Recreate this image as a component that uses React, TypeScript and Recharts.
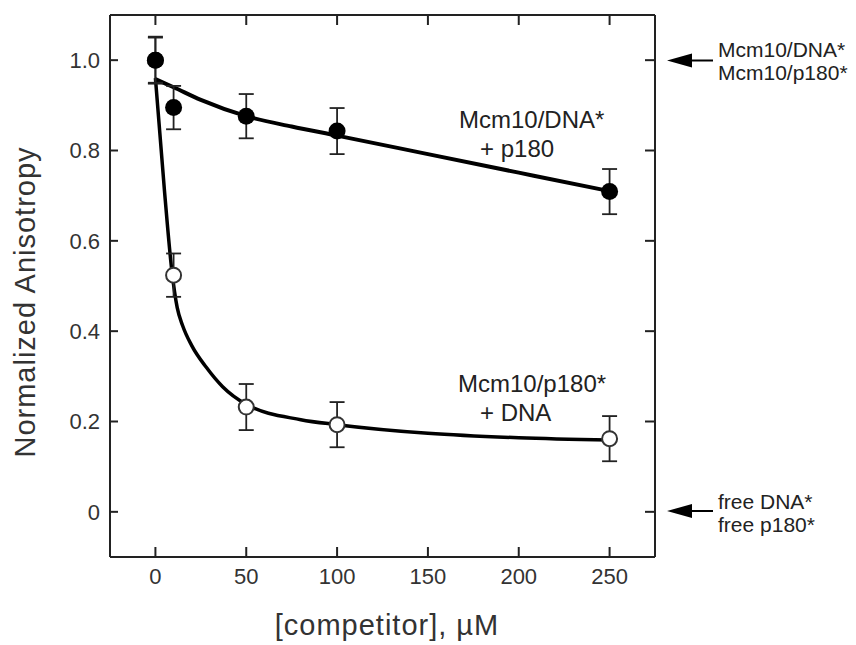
import { ComposedChart, Line, Scatter, ErrorBar, XAxis, YAxis } from 'recharts';

// competitor concentration (uM) where measurements were taken
const concentrations = [0, 10, 50, 100, 250];

// Mcm10/DNA* + p180 (filled circles)
const dnaComplexValues = [1.0, 0.895, 0.876, 0.843, 0.709];
const dnaComplexErrors = [0.052, 0.048, 0.049, 0.051, 0.05];

// Mcm10/p180* + DNA (open circles)
const p180ComplexValues = [1.0, 0.524, 0.232, 0.193, 0.162];
const p180ComplexErrors = [0.05, 0.048, 0.051, 0.05, 0.05];

// fitted curves
const dnaFitX = [0, 10, 25, 50, 75, 100, 150, 200, 250];
const dnaFitY = [0.958, 0.94, 0.912, 0.876, 0.853, 0.833, 0.792, 0.751, 0.71];
const p180FitX = [0, 5, 9, 12, 15, 20, 28, 37, 50, 80, 100, 150, 200, 250];
const p180FitY = [0.96, 0.71, 0.535, 0.452, 0.412, 0.368, 0.32, 0.277, 0.238, 0.204, 0.193, 0.174, 0.164, 0.159];

const xTicks = [0, 50, 100, 150, 200, 250];
const yTicks = [0, 0.2, 0.4, 0.6, 0.8, 1.0];

const dnaPoints = concentrations.map((x, i) => ({ x, y: dnaComplexValues[i], err: dnaComplexErrors[i] }));
const p180Points = concentrations.map((x, i) => ({ x, y: p180ComplexValues[i], err: p180ComplexErrors[i] }));
const dnaFit = dnaFitX.map((x, i) => ({ x, y: dnaFitY[i] }));
const p180Fit = p180FitX.map((x, i) => ({ x, y: p180FitY[i] }));

const font = "'Liberation Sans', Arial, sans-serif";
const tickStyle = { fill: '#333', fontSize: 22, fontFamily: font };
const axisStroke = { stroke: '#222', strokeWidth: 2 };

const NoLabel = () => <g />;

const FilledDot = (props: any) => <circle cx={props.cx} cy={props.cy} r={8.5} fill="#000" />;
const OpenDot = (props: any) => (
  <circle cx={props.cx} cy={props.cy} r={7.5} fill="#fff" stroke="#333" strokeWidth={2} />
);

export default function App() {
  return (
    <div style={{ position: 'absolute', left: 0, top: 0, width: 856, height: 645, fontFamily: font }}>
      <ComposedChart width={856} height={645} margin={{ top: 14, right: 200, bottom: 48, left: 50 }}>
        <XAxis
          xAxisId={0}
          dataKey="x"
          type="number"
          domain={[-25, 275]}
          ticks={xTicks}
          allowDataOverflow
          height={40}
          tickSize={-10}
          tickMargin={21}
          tick={tickStyle}
          axisLine={axisStroke}
          tickLine={axisStroke}
        />
        <XAxis
          xAxisId="top"
          orientation="top"
          dataKey="x"
          type="number"
          domain={[-25, 275]}
          ticks={xTicks}
          allowDataOverflow
          height={1}
          tickSize={-10}
          tick={NoLabel}
          axisLine={axisStroke}
          tickLine={axisStroke}
        />
        <YAxis
          yAxisId={0}
          type="number"
          domain={[-0.1, 1.1]}
          ticks={yTicks}
          allowDataOverflow
          width={60}
          tickSize={-8}
          tickMargin={18}
          tick={tickStyle}
          tickFormatter={(v: number) => (v === 0 ? '0' : v.toFixed(1))}
          axisLine={axisStroke}
          tickLine={axisStroke}
        />
        <YAxis
          yAxisId="right"
          orientation="right"
          type="number"
          domain={[-0.1, 1.1]}
          ticks={yTicks}
          allowDataOverflow
          width={1}
          tickSize={-10}
          tick={NoLabel}
          axisLine={axisStroke}
          tickLine={axisStroke}
        />
        <Line
          data={p180Fit}
          dataKey="y"
          type="monotone"
          stroke="#000"
          strokeWidth={3.5}
          dot={false}
          activeDot={false}
          isAnimationActive={false}
        />
        <Line
          data={dnaFit}
          dataKey="y"
          type="monotone"
          stroke="#000"
          strokeWidth={4}
          dot={false}
          activeDot={false}
          isAnimationActive={false}
        />
        <Scatter data={p180Points} dataKey="y" shape={OpenDot} isAnimationActive={false}>
          <ErrorBar dataKey="err" direction="y" width={7.5} stroke="#222" strokeWidth={1.8} />
        </Scatter>
        <Scatter data={dnaPoints} dataKey="y" shape={FilledDot} isAnimationActive={false}>
          <ErrorBar dataKey="err" direction="y" width={7.5} stroke="#222" strokeWidth={1.8} />
        </Scatter>
      </ComposedChart>
      <svg
        width={856}
        height={645}
        style={{ position: 'absolute', left: 0, top: 0, pointerEvents: 'none' }}
        fontFamily={font}
      >
        <text
          x={35}
          y={302}
          transform="rotate(-90 35 302)"
          textAnchor="middle"
          fontSize={29}
          letterSpacing={1}
          fill="#333"
        >
          Normalized Anisotropy
        </text>
        <text x={387} y={635} textAnchor="middle" fontSize={29} letterSpacing={1} fill="#333">
          [competitor], µM
        </text>
        <g fill="#222" fontSize={24}>
          <text x={459} y={128}>Mcm10/DNA*</text>
          <text x={480} y={157}>+ p180</text>
          <text x={458} y={392}>Mcm10/p180*</text>
          <text x={480} y={421}>+ DNA</text>
        </g>
        <g fill="#222" fontSize={21}>
          <text x={718} y={57}>Mcm10/DNA*</text>
          <text x={718} y={80}>Mcm10/p180*</text>
          <text x={718} y={509}>free DNA*</text>
          <text x={718} y={532}>free p180*</text>
        </g>
        <g fill="#000" stroke="#000">
          <polygon points="667,60.5 692,53.5 692,67.5" strokeWidth={0} />
          <line x1={690} y1={60.5} x2={713} y2={60.5} strokeWidth={2} />
          <polygon points="667,511 692,504 692,518" strokeWidth={0} />
          <line x1={690} y1={511} x2={713} y2={511} strokeWidth={2} />
        </g>
      </svg>
    </div>
  );
}
